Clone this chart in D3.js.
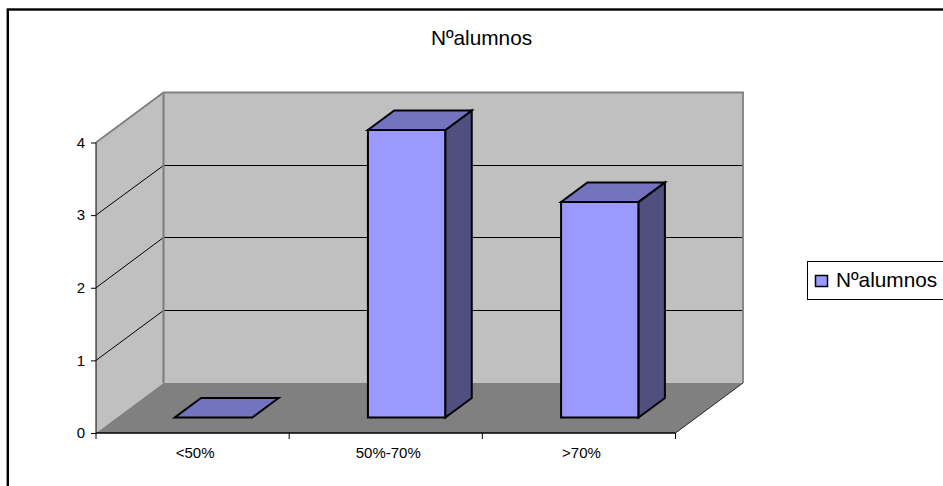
<!DOCTYPE html>
<html>
<head>
<meta charset="utf-8">
<style>
html, body { margin: 0; padding: 0; background: #fff; overflow: hidden; }
svg { display: block; }
text { font-family: "Liberation Sans", Arial, sans-serif; fill: #000; }
</style>
<script src="https://cdn.jsdelivr.net/npm/d3@7/dist/d3.min.js"></script>
</head>
<body>
<svg id="chart" width="943" height="486"></svg>
<script>
const categories = ["<50%", "50%-70%", ">70%"];
const counts = [0, 4, 3];
const yTicks = [0, 1, 2, 3, 4];
const seriesName = "Nºalumnos";

const svg = d3.select("#chart");

// Outer chart frame
svg.append("rect").attr("x", 7.8).attr("y", 9.5).attr("width", 960).attr("height", 500)
  .attr("fill", "#fff").attr("stroke", "#000").attr("stroke-width", 2.4);

// Front plane scales, plus the oblique shift used to project depth
const x = d3.scaleBand().domain(categories).range([96, 675.5]);
const y = d3.scaleLinear().domain([0, 4]).range([433, 142.5]);
const barHeight = d3.scaleLinear().domain([0, 4]).range([0, 287.5]);
const depthX = d3.scaleLinear().domain([0, 1]).range([0, 67.5]);
const depthY = d3.scaleLinear().domain([0, 1]).range([0, -50]);
const project = (px, py, d) => [px + depthX(d), py + depthY(d)];
const poly = pts => d3.line()(pts) + "Z";
const snap = v => Math.floor(v) + 0.5;

const [xMin, xMax] = x.range();
const yTop = y(4), yBase = y(0);

// Side wall
svg.append("path")
  .attr("d", poly([[xMin, yBase], project(xMin, yBase, 1), project(xMin, yTop, 1), [xMin, yTop]]))
  .attr("fill", "#c0c0c0");
// Back wall
svg.append("path")
  .attr("d", poly([project(xMin, yBase, 1), project(xMax, yBase, 1), project(xMax, yTop, 1), project(xMin, yTop, 1)]))
  .attr("fill", "#c0c0c0");
// Floor
svg.append("path")
  .attr("d", poly([[xMin, yBase], [xMax, yBase], project(xMax, yBase, 1), project(xMin, yBase, 1)]))
  .attr("fill", "#808080");

// Gridlines wrapping the side wall and back wall, held on whole pixel rows at the back
const gridLine = d3.line();
yTicks.filter(t => t > 0 && t < 4).forEach(t => {
  const back = project(xMin, y(t), 1);
  const row = snap(back[1]);
  svg.append("path")
    .attr("d", gridLine([[xMin, y(t)], [back[0], row], [project(xMax, y(t), 1)[0], row]]))
    .attr("fill", "none").attr("stroke", "#000").attr("stroke-width", 1);
});

// Wall outlines
svg.append("path")
  .attr("d", gridLine([[xMin, yTop], project(xMin, yTop, 1), project(xMax, yTop, 1), project(xMax, yBase, 1)]))
  .attr("fill", "none").attr("stroke", "#808080").attr("stroke-width", 1.8);
svg.append("path")
  .attr("d", gridLine([project(xMin, yTop, 1), project(xMin, yBase, 1)]))
  .attr("fill", "none").attr("stroke", "#808080").attr("stroke-width", 2.2);
svg.append("path")
  .attr("d", gridLine([[xMax, yBase], project(xMax, yBase, 1)]))
  .attr("fill", "none").attr("stroke", "#000").attr("stroke-width", 0.8);

// Bars: depth runs from 0.31 to 0.70 of the floor
const dFront = 0.31, dBack = 0.70;
const barW = 77.5;
svg.append("g").selectAll("g").data(categories).join("g").each(function (c, i) {
  const g = d3.select(this);
  const left = x(c) + x.bandwidth() / 2 - barW / 2;
  const right = left + barW;
  const bottom = yBase;
  const h = barHeight(counts[i]);
  const f = (px, up, d) => project(px, bottom - up, d);
  const face = (pts, fill) => g.append("path").attr("d", poly(pts)).attr("fill", fill)
    .attr("stroke", "#000").attr("stroke-width", 2).attr("stroke-linejoin", "miter");
  if (h > 0) {
    face([f(left, 0, dFront), f(right, 0, dFront), f(right, h, dFront), f(left, h, dFront)], "#9999ff");
    face([f(right, 0, dFront), f(right, 0, dBack), f(right, h, dBack), f(right, h, dFront)], "#4f4f80");
  }
  face([f(left, h, dFront), f(right, h, dFront), f(right, h, dBack), f(left, h, dBack)], "#7373bf");
});

// Value axis
const yAxis = d3.axisLeft(y).tickValues(yTicks).tickFormat(d3.format("d")).tickSize(5).tickPadding(6);
const yG = svg.append("g").attr("transform", `translate(${xMin},0)`).call(yAxis);
yG.selectAll("line").attr("stroke", "#000");
yG.select(".domain").attr("d", `M0,${yTop}V${yBase}`).attr("stroke", "#000");
yG.selectAll("text").attr("font-size", 15).attr("font-family", "Liberation Sans");

// Category axis
const xAxis = d3.axisBottom(x).tickSize(0).tickPadding(14);
const xG = svg.append("g").attr("transform", `translate(0,${yBase})`).call(xAxis);
xG.select(".domain").attr("d", `M${xMin},0H${xMax}`).attr("stroke", "#000").attr("stroke-width", 1.4);
xG.selectAll(".tick text").attr("font-size", 15).attr("font-family", "Liberation Sans").attr("dx", 2.5);
xG.selectAll("line.edge").data(d3.range(categories.length + 1)).join("line").attr("class", "edge")
  .attr("x1", i => xMin + i * x.step()).attr("x2", i => xMin + i * x.step())
  .attr("y1", 0).attr("y2", 6).attr("stroke", "#000");

// Chart title
svg.append("text").attr("x", 481.5).attr("y", 45).attr("text-anchor", "middle")
  .attr("font-size", 20.8).text(seriesName);

// Legend
const legend = svg.append("g");
legend.append("rect").attr("x", 807.5).attr("y", 261.5).attr("width", 160).attr("height", 38)
  .attr("fill", "#fff").attr("stroke", "#000").attr("stroke-width", 1);
legend.append("rect").attr("x", 815.5).attr("y", 275.5).attr("width", 12).attr("height", 11)
  .attr("fill", "#9999ff").attr("stroke", "#000").attr("stroke-width", 1.5);
legend.append("text").attr("x", 836).attr("y", 286.5).attr("font-size", 20.8).text(seriesName);
</script>
</body>
</html>
